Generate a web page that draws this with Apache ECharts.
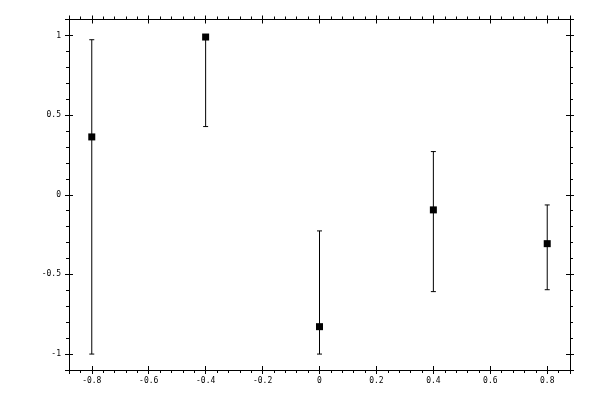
<!DOCTYPE html>
<html lang="en">
<head>
    <meta charset="UTF-8">
    <script type="text/javascript" src="https://cdn.jsdelivr.net/npm/echarts@6/dist/echarts.min.js"></script>
    <style>
        html, body { margin: 0; padding: 0; background: #fff; }
        #chart { width: 600px; height: 400px; }
    </style>
</head>
<body>
<div id="chart"></div>
<script type="text/javascript">
    // points
    var xs = [-0.8, -0.4, 0, 0.4, 0.8];
    var ys = [0.363, 0.99, -0.828, -0.095, -0.307];
    var lows = [-1.0, 0.428, -1.0, -0.608, -0.596];
    var highs = [0.973, 0.99, -0.227, 0.271, -0.064];

    var xMin = -0.88, xMax = 0.88;
    var yMin = -1.1, yMax = 1.1;

    var font = {fontFamily: 'DejaVu Sans Mono', fontSize: 8, color: '#000'};

    function xAx(pos, labels, inside) {
        return {
            type: 'value', position: pos, min: xMin, max: xMax, splitNumber: 8,
            axisLine: {show: !inside, onZero: false, lineStyle: {color: '#000', width: 1}},
            axisTick: {show: true, inside: inside, length: 4, lineStyle: {color: '#000'}},
            minorTick: {show: !inside, splitNumber: 5, length: 3, lineStyle: {color: '#000'}},
            axisLabel: Object.assign({show: labels, margin: 7, showMinLabel: false, showMaxLabel: false}, font),
            splitLine: {show: false}
        };
    }

    function yAx(pos, labels, inside) {
        return {
            type: 'value', position: pos, min: yMin, max: yMax, splitNumber: 5,
            axisLine: {show: !inside, onZero: false, lineStyle: {color: '#000', width: 1}},
            axisTick: {show: true, inside: inside, length: 4, lineStyle: {color: '#000'}},
            minorTick: {show: !inside, splitNumber: 5, length: 3, lineStyle: {color: '#000'}},
            axisLabel: Object.assign({show: labels, margin: 8, showMinLabel: false, showMaxLabel: false}, font),
            splitLine: {show: false}
        };
    }

    var pts = xs.map(function (x, i) { return [x, ys[i]]; });
    var bars = xs.map(function (x, i) { return [x, lows[i], highs[i]]; });

    var option = {
        animation: false,
        backgroundColor: '#fff',
        grid: {left: 69, right: 30, top: 19.5, bottom: 30, containLabel: false},
        xAxis: [
            xAx('bottom', true, false),
            xAx('bottom', false, true),
            xAx('top', false, false),
            xAx('top', false, true)
        ],
        yAxis: [
            yAx('left', true, false),
            yAx('left', false, true),
            yAx('right', false, false),
            yAx('right', false, true)
        ],
        series: [
            {
                type: 'custom',
                xAxisIndex: 0, yAxisIndex: 0,
                data: bars,
                z: 2,
                renderItem: function (params, api) {
                    var x = api.value(0);
                    var lo = api.coord([x, api.value(1)]);
                    var hi = api.coord([x, api.value(2)]);
                    var w = 2.5;
                    var st = {stroke: '#000', lineWidth: 1};
                    return {
                        type: 'group',
                        children: [
                            {type: 'line', shape: {x1: lo[0], y1: lo[1], x2: hi[0], y2: hi[1]}, style: st},
                            {type: 'line', shape: {x1: lo[0] - w, y1: lo[1], x2: lo[0] + w, y2: lo[1]}, style: st},
                            {type: 'line', shape: {x1: hi[0] - w, y1: hi[1], x2: hi[0] + w, y2: hi[1]}, style: st}
                        ]
                    };
                }
            },
            {
                type: 'scatter',
                xAxisIndex: 0, yAxisIndex: 0,
                data: pts,
                symbol: 'rect',
                symbolSize: 7,
                z: 3,
                itemStyle: {color: '#000', opacity: 1}
            }
        ]
    };

    var chart = echarts.init(document.getElementById('chart'));
    chart.setOption(option);
</script>
</body>
</html>
